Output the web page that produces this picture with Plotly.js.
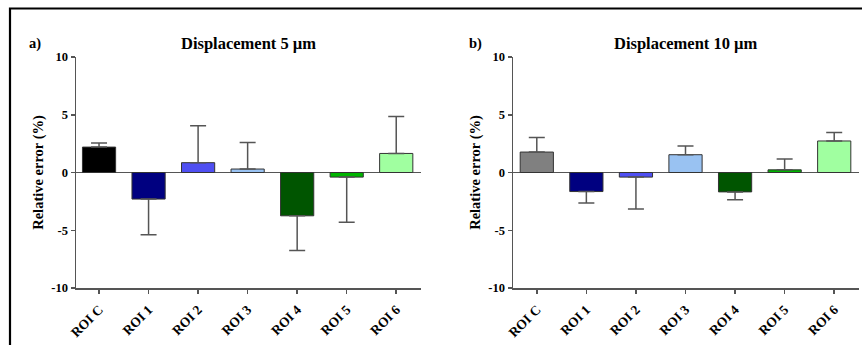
<!DOCTYPE html>
<html>
<head>
<meta charset="utf-8">
<script src="https://cdn.plot.ly/plotly-3.0.1.min.js"></script>
<style>
  html, body { margin: 0; padding: 0; background: #fff; }
  #chart { width: 862px; height: 345px; }
</style>
</head>
<body>
<div id="chart"></div>
<script>
// ROI labels shared by both panels
const categories = ['ROI C', 'ROI 1', 'ROI 2', 'ROI 3', 'ROI 4', 'ROI 5', 'ROI 6'];

// Panel a) displacement 5 µm: mean relative error and SD (%)
const mean5 = [2.2, -2.3, 0.85, 0.3, -3.75, -0.4, 1.65];
const sd5   = [0.35, 3.1, 3.2, 2.3, 3.0, 3.9, 3.2];

// Panel b) displacement 10 µm
const mean10 = [1.77, -1.65, -0.4, 1.54, -1.68, 0.23, 2.73];
const sd10   = [1.25, 1.0, 2.77, 0.76, 0.67, 0.93, 0.73];

const colors5  = ['#000000', '#000080', '#4f4ff2', '#99c2f2', '#005500', '#00b400', '#a0ffa0'];
const colors10 = ['#808080', '#000080', '#4f4ff2', '#99c2f2', '#005500', '#00b400', '#a0ffa0'];

const yTicks = [-10, -5, 0, 5, 10];

const W = 862, H = 345;
const serif = 'Liberation Serif, DejaVu Serif, serif';
const axisGrey = '#555555';

// error bars point away from zero, as SD-up / SD-down only
function upper(m, s) { return m.map((v, i) => v >= 0 ? s[i] : 0); }
function lower(m, s) { return m.map((v, i) => v < 0 ? s[i] : 0); }

function barTrace(means, sds, colors, xa, ya) {
  return {
    type: 'bar',
    x: categories,
    y: means,
    xaxis: xa,
    yaxis: ya,
    width: 0.67,
    marker: { color: colors, line: { color: '#333333', width: 1 } },
    error_y: {
      type: 'data',
      symmetric: false,
      array: upper(means, sds),
      arrayminus: lower(means, sds),
      color: '#555555',
      thickness: 1.5,
      width: 8
    },
    hoverinfo: 'x+y',
    showlegend: false
  };
}

const data = [
  barTrace(mean5, sd5, colors5, 'x', 'y'),
  barTrace(mean10, sd10, colors10, 'x2', 'y2')
];

const yDomain = [1 - 288 / H, 1 - 57 / H];

function xAxis(domain, range) {
  return {
    domain: domain,
    range: range,
    type: 'category',
    showline: true, linecolor: axisGrey, linewidth: 1.5,
    ticks: 'outside', ticklen: 4, tickwidth: 1.5, tickcolor: axisGrey,
    tickangle: -45,
    ticklabelstandoff: 3,
    tickfont: { family: serif, size: 13.5, color: '#000', weight: 'bold' },
    showgrid: false, zeroline: false, fixedrange: true
  };
}

function yAxis(domain, anchor) {
  return {
    domain: domain,
    anchor: anchor,
    range: [-10, 10],
    tickvals: yTicks,
    ticktext: yTicks.map(String),
    showline: true, linecolor: axisGrey, linewidth: 1.5,
    ticks: 'outside', ticklen: 4, tickwidth: 1.5, tickcolor: axisGrey,
    tickfont: { family: serif, size: 12.5, color: '#000', weight: 'bold' },
    showgrid: false,
    zeroline: true, zerolinecolor: axisGrey, zerolinewidth: 1.5,
    title: { text: 'Relative error (%)', font: { family: serif, size: 14.5, color: '#000', weight: 'bold' }, standoff: 4 },
    fixedrange: true
  };
}

const layout = {
  width: W, height: H,
  margin: { l: 0, r: 0, t: 0, b: 0 },
  paper_bgcolor: '#ffffff',
  plot_bgcolor: 'rgba(0,0,0,0)',
  font: { family: serif },
  xaxis:  Object.assign(xAxis([76 / W, 421 / W], [-0.465, 6.5]), { anchor: 'y' }),
  xaxis2: Object.assign(xAxis([513 / W, 859 / W], [-0.48, 6.5]), { anchor: 'y2' }),
  yaxis:  yAxis(yDomain, 'x'),
  yaxis2: yAxis(yDomain, 'x2'),
  annotations: [
    { text: 'Displacement 5 µm', xref: 'paper', yref: 'paper', x: 248 / W, y: 1 - 43 / H,
      xanchor: 'center', yanchor: 'middle', showarrow: false,
      font: { family: serif, size: 16.5, color: '#000', weight: 'bold' } },
    { text: 'Displacement 10 µm', xref: 'paper', yref: 'paper', x: 686 / W, y: 1 - 43 / H,
      xanchor: 'center', yanchor: 'middle', showarrow: false,
      font: { family: serif, size: 16.5, color: '#000', weight: 'bold' } },
    { text: 'a)', xref: 'paper', yref: 'paper', x: 27 / W, y: 1 - 44 / H,
      xanchor: 'left', yanchor: 'middle', showarrow: false,
      font: { family: serif, size: 14.5, color: '#000', weight: 'bold' } },
    { text: 'b)', xref: 'paper', yref: 'paper', x: 467 / W, y: 1 - 44 / H,
      xanchor: 'left', yanchor: 'middle', showarrow: false,
      font: { family: serif, size: 14.5, color: '#000', weight: 'bold' } }
  ],
  shapes: [
    // frame around the figure (top and left edges visible)
    { type: 'rect', xref: 'paper', yref: 'paper',
      x0: 10 / W, x1: 1.05, y0: -0.05, y1: 1 - 8.5 / H,
      line: { color: '#000', width: 2.2 }, fillcolor: 'rgba(0,0,0,0)' }
  ]
};

Plotly.newPlot('chart', data, layout, { displayModeBar: false, staticPlot: true });
</script>
</body>
</html>
